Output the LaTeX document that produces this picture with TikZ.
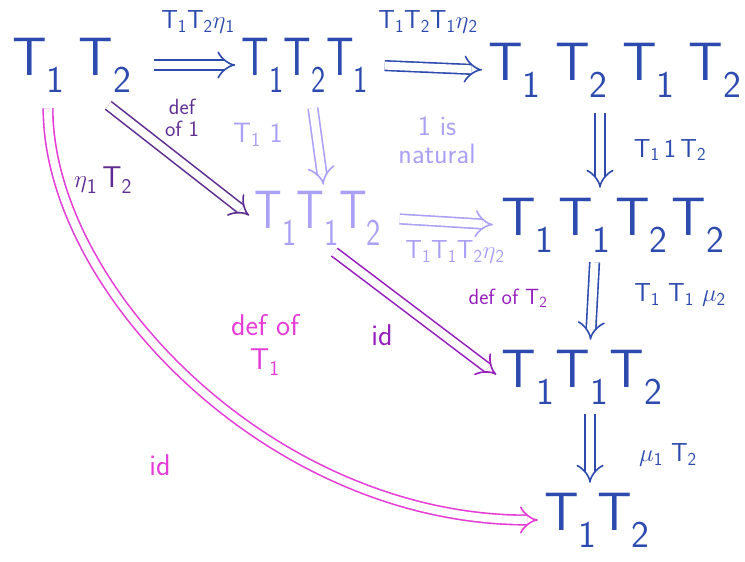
\documentclass[tikz,border=0pt]{standalone}
\usetikzlibrary{arrows.meta}
\definecolor{mblue}{RGB}{45,75,175}
\definecolor{lav}{RGB}{170,160,245}
\definecolor{dpurp}{RGB}{95,45,145}
\definecolor{purp}{RGB}{150,30,190}
\definecolor{mag}{RGB}{230,60,215}
\newcommand\Tone{T\textsubscript{1}}
\newcommand\Ttwo{T\textsubscript{2}}
\newcommand\etaone{$\eta$\textsubscript{1}}
\newcommand\etatwo{$\eta$\textsubscript{2}}
\newcommand\muone{$\mu$\textsubscript{1}}
\newcommand\mutwo{$\mu$\textsubscript{2}}
\newcommand\narrow[1]{\scalebox{0.8}[1]{#1}}
\begin{document}
\begin{tikzpicture}[x=1pt,y=-1pt,font=\sffamily,
  big/.style={font=\sffamily\fontsize{54}{58}\selectfont, inner sep=2pt},
  lbl/.style={font=\sffamily\fontsize{26}{28}\selectfont, inner sep=1pt, align=center},
  dbl/.style={double, double distance=8pt, line width=1.6pt, -{Implies}}]
\useasboundingbox (0,0) rectangle (745,562);
% objects
\node[big,mblue] (A) at (72,65) {\Tone\hspace{14pt}\Ttwo};
\node[big,mblue] (B) at (305,65) {\narrow{\Tone\Ttwo\Tone}};
\node[big,mblue] (C) at (615,70) {\Tone\hspace{14pt}\Ttwo\hspace{14pt}\Tone\hspace{14pt}\Ttwo};
\node[big,lav] (D) at (318,218) {\narrow{\Tone\Tone\Ttwo}};
\node[big,mblue] (E) at (613,225) {\Tone\hspace{4pt}\Tone\hspace{4pt}\Ttwo\hspace{4pt}\Ttwo};
\node[big,mblue] (F) at (582,377) {\Tone\hspace{1pt}\Tone\hspace{1pt}\Ttwo};
\node[big,mblue] (G) at (597,520) {\Tone\Ttwo};
% arrows
\draw[dbl,mblue,shorten <=20pt,shorten >=4pt] (A.east) -- (B.west);
\draw[dbl,mblue,shorten <=14pt,shorten >=4pt] (B.east) -- (C.west);
\draw[dbl,lav,shorten <=14pt,shorten >=4pt] ([xshift=6pt]B.south) -- ([xshift=6pt]D.north);
\draw[dbl,mblue,shorten <=14pt,shorten >=8pt] ([xshift=-15pt]C.south) -- ([xshift=-13pt]E.north);
\draw[dbl,lav,shorten <=16pt,shorten >=6pt] (D.east) -- (E.west);
\draw[dbl,mblue,shorten <=8pt,shorten >=8pt] ([xshift=-18pt]E.south) -- ([xshift=8pt]F.north);
\draw[dbl,mblue,shorten <=8pt,shorten >=8pt] ([xshift=8pt]F.south) -- ([xshift=-7pt]G.north);
\draw[dbl,dpurp,shorten <=18pt,shorten >=4pt] ([xshift=-40pt]A.south east) -- (D.west);
\draw[dbl,purp,shorten <=8pt,shorten >=4pt] ([xshift=10pt]D.south) -- (F.west);
\draw[dbl,mag,shorten <=14pt,shorten >=4pt] ([xshift=-24pt]A.south) .. controls +(0,195) and +(-270,0) .. (G.west);
% labels
\node[lbl,mblue] (l1) at (198,22) {\Tone\Ttwo\etaone};
\node[lbl,mblue] (l2) at (428,22) {\Tone\Ttwo\Tone\etatwo};
\node[lbl,lav,font=\sffamily\fontsize{28}{30}\selectfont] (l3) at (258,135) {\Tone\ 1};
\node[lbl,lav,font=\sffamily\fontsize{28}{28}\selectfont] (l4) at (437,140) {1 is\\natural};
\node[lbl,mblue] (l5) at (670,150) {\Tone\,1\,\Ttwo};
\node[lbl,lav] (l6) at (455,252) {\Tone\Tone\Ttwo\etatwo};
\node[lbl,dpurp,font=\sffamily\fontsize{22}{22}\selectfont] (l7) at (182,118) {def\\of 1};
\node[lbl,dpurp,font=\sffamily\fontsize{30}{32}\selectfont] (l8) at (103,180) {\etaone\,\Ttwo};
\node[lbl,purp,font=\sffamily\fontsize{22}{24}\selectfont] (l9) at (508,298) {def of \Ttwo};
\node[lbl,mblue] (l10) at (680,295) {\Tone\ \Tone\ \mutwo};
\node[lbl,purp,font=\sffamily\fontsize{30}{32}\selectfont] (l11) at (382,335) {id};
\node[lbl,mag,font=\sffamily\fontsize{30}{34}\selectfont] (l12) at (265,345) {def of\\\Tone};
\node[lbl,mblue] (l13) at (668,455) {\muone\ \Ttwo};
\node[lbl,mag,font=\sffamily\fontsize{30}{32}\selectfont] (l14) at (160,465) {id};
\end{tikzpicture}
\end{document}
